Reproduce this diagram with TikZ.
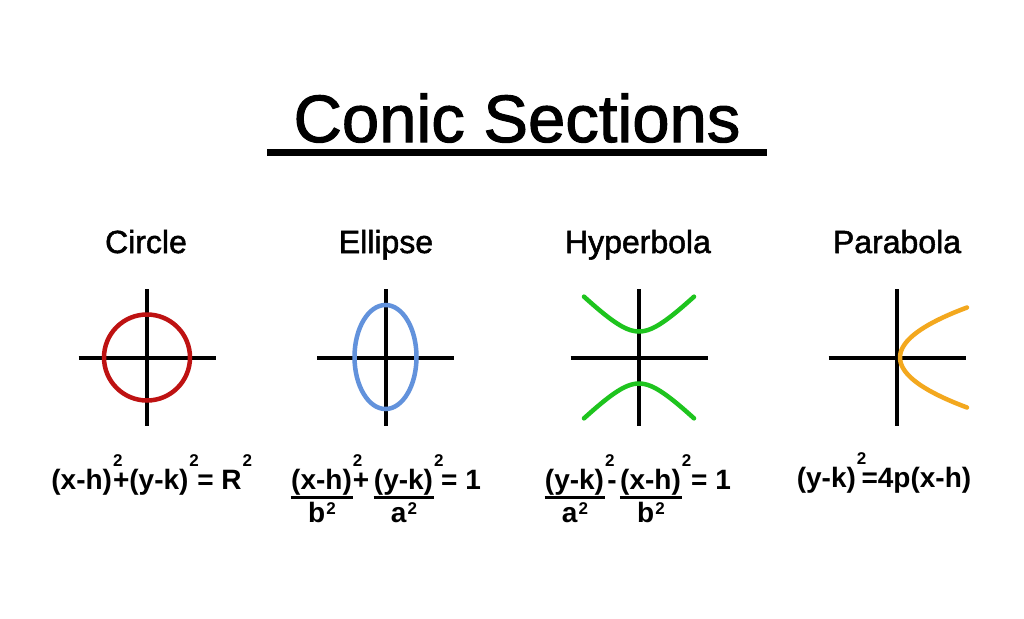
\documentclass[tikz,border=0pt]{standalone}
\usepackage{fontspec}
\setmainfont{Liberation Sans}
\newfontfamily\mediumfont[FakeBold=1.6]{Liberation Sans}
\usepackage{xcolor}
\definecolor{circlered}{RGB}{190,18,18}
\definecolor{ellipseblue}{RGB}{98,146,220}
\definecolor{hyperbolagreen}{RGB}{30,196,30}
\definecolor{parabolaorange}{RGB}{243,168,30}
% raised 2: no width over a bracket, with width after a letter
\newcommand{\suptwo}{\kern1pt\rlap{\raisebox{23pt}{\fontsize{17}{17}\selectfont 2}}}
\newcommand{\densq}{\kern1pt\raisebox{8pt}{\fontsize{17}{17}\selectfont 2}}

\begin{document}
\begin{tikzpicture}[x=1pt, y=-1pt, thick,
    axis/.style={line width=4pt},
    conic/.style={line width=4.5pt, line cap=round},
    heading/.style={font=\fontsize{67}{67}\mediumfont, anchor=base},
    coniclabel/.style={font=\fontsize{32}{32}\mediumfont, anchor=base},
    eq/.style={font=\fontsize{28}{28}\selectfont\bfseries, inner sep=0pt, anchor=base},
    fracbar/.style={line width=3pt}]
    \fill[white] (0,0) rectangle (1024,618);
    \useasboundingbox (0,0) rectangle (1024,618);
    % title
    \node[heading] (title) at (517,142) {Conic Sections};
    \draw[line width=7pt] (267,152) -- (767,152);
    % names
    \node[coniclabel] (circlename) at (146,253) {Circle};
    \node[coniclabel] (ellipsename) at (386,253) {Ellipse};
    \node[coniclabel] (hyperbolaname) at (638,253) {Hyperbola};
    \node[coniclabel] (parabolaname) at (897,253) {Parabola};
    % axes
    \draw[axis] (78.5,357.5) -- (215.5,357.5) (147,289) -- (147,426);
    \draw[axis] (317,357.5) -- (454,357.5) (385.5,289) -- (385.5,426);
    \draw[axis] (570.5,357.5) -- (707.5,357.5) (639,289) -- (639,426);
    \draw[axis] (828.5,357.5) -- (965.5,357.5) (897,289) -- (897,426);
    % curves
    \draw[conic, circlered] (147,357.5) circle[radius=43];
    \draw[conic, ellipseblue] (385.5,357) ellipse[x radius=31, y radius=52];
    \draw[conic, hyperbolagreen, domain=-55:55, samples=41] plot ({639+\x}, {357.5-sqrt(676+\x*\x)});
    \draw[conic, hyperbolagreen, domain=-55:55, samples=41] plot ({639+\x}, {357.5+sqrt(676+\x*\x)});
    \draw[conic, parabolaorange, domain=-50:50, samples=41] plot ({900+0.0268*\x*\x}, {357.5+\x});
    % circle equation
    \node[eq] (circleeq) at (147,489) {(x-h)\suptwo+(y-k)\suptwo{} = R\suptwo};
    % ellipse equation
    \node[eq] (enum1) at (322,489) {(x-h)\suptwo};
    \node[eq] (eplus) at (361,489) {+};
    \node[eq] (enum2) at (404,489) {(y-k)\suptwo};
    \node[eq] (eone) at (461,489) {= 1};
    \node[eq] (eden1) at (322,522.5) {b\densq};
    \node[eq] (eden2) at (404,522.5) {a\densq};
    \draw[fracbar] ([yshift=-2pt]enum1.south west) -- ([yshift=-2pt]enum1.south east);
    \draw[fracbar] ([yshift=-2pt]enum2.south west) -- ([yshift=-2pt]enum2.south east);
    % hyperbola equation
    \node[eq] (hnum1) at (575,489) {(y-k)\suptwo};
    \node[eq] (hminus) at (612,489) {-};
    \node[eq] (hnum2) at (651,489) {(x-h)\suptwo};
    \node[eq] (hone) at (711,489) {= 1};
    \node[eq] (hden1) at (575,522.5) {a\densq};
    \node[eq] (hden2) at (651,522.5) {b\densq};
    \draw[fracbar] ([yshift=-2pt]hnum1.south west) -- ([yshift=-2pt]hnum1.south east);
    \draw[fracbar] ([yshift=-2pt]hnum2.south west) -- ([yshift=-2pt]hnum2.south east);
    % parabola equation
    \node[eq] (parabolaeq) at (884,487) {(y-k)\suptwo\,=4p(x-h)};
\end{tikzpicture}
\end{document}
